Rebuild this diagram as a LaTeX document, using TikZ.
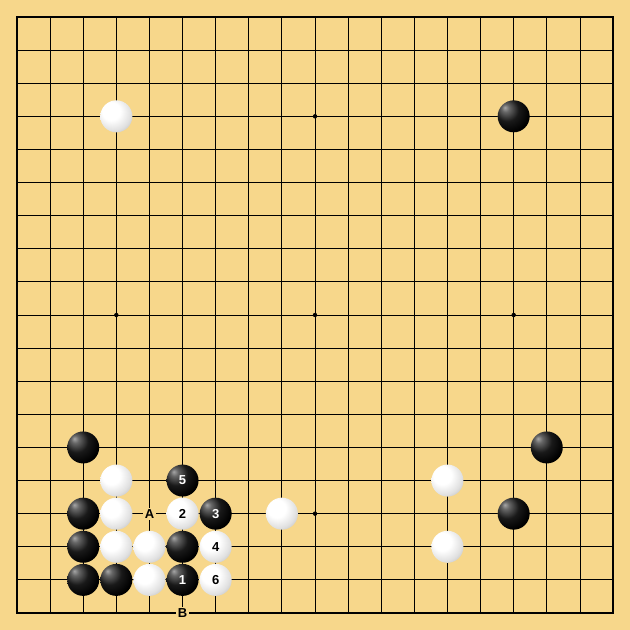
\documentclass[tikz,border=0pt]{standalone}
\usepackage{tikz}
\usetikzlibrary{shapes,positioning,calc}
\usepackage{xcolor}
\usepackage{fontspec}
\setsansfont{Liberation Sans}
\definecolor{boardyellow}{HTML}{F7D78B}

\pgfdeclareradialshading{whiteball}{\pgfpoint{-10bp}{10bp}}{color(0bp)=(white); color(14bp)=(white); color(28bp)=(black!12); color(42bp)=(black!32); color(56bp)=(black!50); color(70bp)=(black!55)}
\pgfdeclareradialshading{blackball}{\pgfpoint{-14bp}{14bp}}{color(0bp)=(black!35); color(6bp)=(black!60); color(18bp)=(black!90); color(32bp)=(black); color(70bp)=(black)}

\tikzset{
    blackstone/.style={circle, inner sep=0pt, minimum size=32pt, shading=blackball, text=white, font=\sffamily\bfseries\fontsize{13}{13}\selectfont},
    whitestone/.style={circle, inner sep=0pt, minimum size=32pt, shading=whiteball, text=black, font=\sffamily\bfseries\fontsize{13}{13}\selectfont},
    boardlabel/.style={fill=boardyellow, inner sep=1.5pt, font=\sffamily\bfseries\fontsize{13}{13}\selectfont}
}

\begin{document}
\begin{tikzpicture}[x=33.11pt, y=-33.11pt]
            % board
            \fill[boardyellow] (-0.5134,-0.5134) rectangle (18.5134,18.5134);
            \useasboundingbox (-0.5134,-0.5134) rectangle (18.5134,18.5134);
            \foreach \k in {1,...,17} {
                \draw[line width=0.8pt] (\k,0) -- (\k,18);
                \draw[line width=0.8pt] (0,\k) -- (18,\k);
            }
            \draw[line width=1.6pt] (0,0) rectangle (18,18);
            \foreach \x/\y in {3/3,9/3,15/3,3/9,9/9,15/9,3/15,9/15,15/15}
                \fill (\x,\y) circle (2.2pt);

            % top stones
            \node[whitestone] (w1) at (3,3) {};
            \node[blackstone] (b1) at (15,3) {};

            % right side
            \node[blackstone] (b2) at (16,13) {};
            \node[whitestone] (w2) at (13,14) {};
            \node[blackstone] (b3) at (15,15) {};
            \node[whitestone] (w3) at (13,16) {};

            % lower left
            \node[blackstone] (b4) at (2,13) {};
            \node[whitestone] (w4) at (3,14) {};
            \node[blackstone] (m5) at (5,14) {5};
            \node[blackstone] (b5) at (2,15) {};
            \node[whitestone] (w5) at (3,15) {};
            \node[boardlabel] (A) at (4,15) {A};
            \node[whitestone] (m2) at (5,15) {2};
            \node[blackstone] (m3) at (6,15) {3};
            \node[whitestone] (w6) at (8,15) {};
            \node[blackstone] (b6) at (2,16) {};
            \node[whitestone] (w7) at (3,16) {};
            \node[whitestone] (w8) at (4,16) {};
            \node[blackstone] (b7) at (5,16) {};
            \node[whitestone] (m4) at (6,16) {4};
            \node[blackstone] (b8) at (2,17) {};
            \node[blackstone] (b9) at (3,17) {};
            \node[whitestone] (w9) at (4,17) {};
            \node[blackstone] (m1) at (5,17) {1};
            \node[whitestone] (m6) at (6,17) {6};
            \node[boardlabel] (B) at (5,18) {B};
        \end{tikzpicture}
\end{document}
